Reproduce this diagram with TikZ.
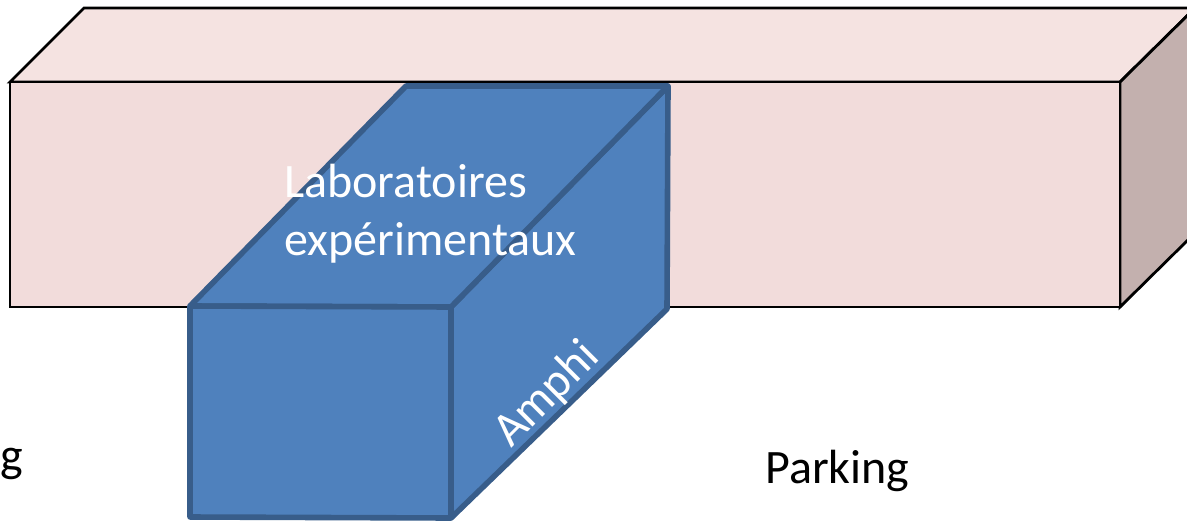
\documentclass[tikz,border=0pt]{standalone}
\usepackage{fontspec}
\setmainfont{Carlito}
\definecolor{pinkfront}{HTML}{F2DCDB}
\definecolor{pinktop}{HTML}{F5E3E1}
\definecolor{pinkside}{HTML}{C3B0AE}
\definecolor{bluefill}{HTML}{4F81BD}
\definecolor{blueline}{HTML}{385D8A}
\tikzset{
  x=0.75pt,y=-0.75pt,
  pinkface/.style={draw=black,line width=2.1pt,line join=miter},
  blueface/.style={draw=blueline,fill=bluefill,line width=4.2pt,line join=round},
  lightlabel/.style={text=white,font=\fontsize{36}{42}\selectfont,inner sep=0pt,anchor=base west},
  darklabel/.style={text=black,font=\fontsize{36}{42}\selectfont,inner sep=0pt,anchor=base west}
}
\begin{document}
\begin{tikzpicture}
\useasboundingbox (0,0) rectangle (1187,521);
\clip (0,0) rectangle (1187,521);
% long building
\coordinate (bfl) at (10,82);
\coordinate (bfr) at (1120,82);
\coordinate (bbl) at (10,307);
\coordinate (bbr) at (1120,307);
\coordinate (btl) at (84,8);
\coordinate (btr) at (1195,8);
\coordinate (bsr) at (1195,233);
\draw[pinkface,fill=pinktop] (bfl) -- (btl) -- (btr) -- (bfr) -- cycle;
\draw[pinkface,fill=pinkside] (bfr) -- (btr) -- (bsr) -- (bbr) -- cycle;
\draw[pinkface,fill=pinkfront] (bfl) -- (bfr) -- (bbr) -- (bbl) -- cycle;
% blue block
\coordinate (a) at (190,306);
\coordinate (b) at (451,307);
\coordinate (c) at (451,518);
\coordinate (d) at (190,517);
\coordinate (e) at (406,86);
\coordinate (f) at (668,86);
\coordinate (g) at (667,309);
\draw[blueface] (b) -- (f) -- (g) -- (c) -- cycle;
\draw[blueface] (a) -- (e) -- (f) -- (b) -- cycle;
\draw[blueface] (a) -- (b) -- (c) -- (d) -- cycle;
% labels
\node[lightlabel] (labo) at (284,197) {Laboratoires};
\node[lightlabel] (expe) at (284,255) {expérimentaux};
\node[lightlabel,rotate=45] (amphi) at (511,449) {Amphi};
\node[darklabel] (park) at (765,483) {Parking};
\node[darklabel,anchor=base east] (frag) at (23,471) {g};
\end{tikzpicture}
\end{document}
